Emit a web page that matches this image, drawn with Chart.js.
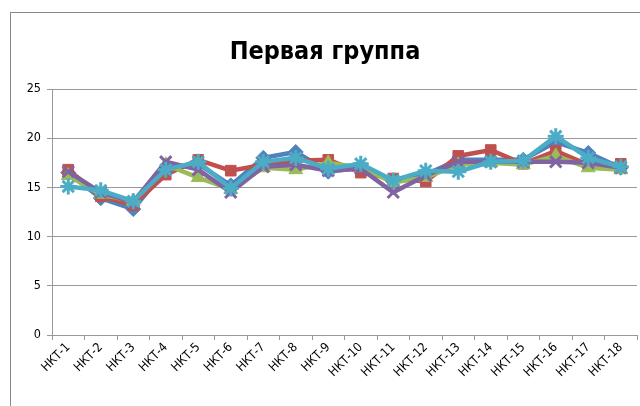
<!DOCTYPE html>
<html>
<head>
<meta charset="utf-8">
<script src="https://cdn.jsdelivr.net/npm/chart.js@4/dist/chart.umd.min.js"></script>
<style>
  html, body { margin: 0; padding: 0; background: #fff; }
  #wrap { width: 640px; height: 406px; }
</style>
</head>
<body>
<div id="wrap"><canvas id="lineChart" width="640" height="406"></canvas></div>
<script>
// Categories and series
const categories = ['НКТ-1', 'НКТ-2', 'НКТ-3', 'НКТ-4', 'НКТ-5', 'НКТ-6', 'НКТ-7', 'НКТ-8', 'НКТ-9',
    'НКТ-10', 'НКТ-11', 'НКТ-12', 'НКТ-13', 'НКТ-14', 'НКТ-15', 'НКТ-16', 'НКТ-17', 'НКТ-18'];

const series1 = [16.5, 13.9, 12.8, 16.8, 17.4, 15.2, 18.0, 18.6, 16.6, 17.0, 15.6, 16.3, 17.8, 17.8, 17.8, 19.6, 18.5, 17.0];
const series2 = [16.8, 14.1, 13.2, 16.3, 17.8, 16.7, 17.3, 17.7, 17.8, 16.5, 15.9, 15.6, 18.2, 18.8, 17.4, 18.7, 17.3, 17.4];
const series3 = [16.2, 14.3, 13.6, 17.3, 16.0, 14.8, 17.0, 16.8, 17.5, 17.0, 15.5, 16.0, 17.3, 17.5, 17.3, 18.2, 17.0, 16.8];
const series4 = [16.6, 14.5, 13.5, 17.6, 16.8, 14.5, 17.1, 17.3, 16.7, 16.9, 14.5, 16.2, 17.6, 17.6, 17.6, 17.6, 17.5, 17.0];
const series5 = [15.1, 14.7, 13.6, 16.8, 17.6, 14.9, 17.6, 18.0, 16.9, 17.4, 15.7, 16.7, 16.6, 17.6, 17.7, 20.2, 18.0, 17.1];

const yTicks = [0, 5, 10, 15, 20, 25];

const titleText = 'Первая группа';
const fontFamily = '"Liberation Sans Narrow", "DejaVu Sans Condensed", "Liberation Sans", sans-serif';

function makeSeries(data, color, style, radius, order) {
    return {
        data: data,
        borderColor: color,
        backgroundColor: color,
        borderWidth: 4.5,
        pointStyle: style,
        pointRadius: radius,
        pointBorderWidth: style === 'crossRot' || style === 'star' ? 3 : 1,
        tension: 0,
        clip: false,
        order: order
    };
}

// Frame + title drawn before the chart
const framePlugin = {
    id: 'frame',
    beforeDraw(chart) {
        const ctx = chart.ctx;
        ctx.save();
        ctx.fillStyle = '#fff';
        ctx.fillRect(0, 0, chart.width, chart.height);
        ctx.strokeStyle = '#888';
        ctx.lineWidth = 1;
        ctx.strokeRect(10.5, 12.5, 700, 500);
        ctx.fillStyle = '#000';
        ctx.font = 'bold 25px ' + fontFamily;
        ctx.textAlign = 'center';
        ctx.textBaseline = 'alphabetic';
        ctx.fillText(titleText, 325, 59);
        ctx.restore();
    }
};

const ctx = document.getElementById('lineChart').getContext('2d');
new Chart(ctx, {
    type: 'line',
    data: {
        labels: categories,
        datasets: [
            makeSeries(series1, '#4F81BD', 'rectRot', 7.5, 5),
            makeSeries(series2, '#C0504D', 'rect', 7.5, 4),
            makeSeries(series3, '#9BBB59', 'triangle', 8, 3),
            makeSeries(series4, '#8064A2', 'crossRot', 8, 2),
            makeSeries(series5, '#4BACC6', 'star', 8, 1)
        ]
    },
    options: {
        responsive: false,
        animation: false,
        layout: { autoPadding: false, padding: { top: 89, right: 3, left: 0, bottom: 0 } },
        plugins: {
            legend: { display: false },
            title: { display: false },
            tooltip: { enabled: false }
        },
        scales: {
            x: {
                offset: true,
                grid: {
                    offset: true,
                    drawOnChartArea: false,
                    color: '#999',
                    tickLength: 5
                },
                border: { color: '#999' },
                ticks: {
                    color: '#000',
                    font: { family: fontFamily, size: 12.5 },
                    minRotation: 45,
                    maxRotation: 45,
                    autoSkip: false,
                    padding: 0
                },
                afterFit(scale) {
                    scale.height = 71;
                    scale.paddingLeft = 0;
                    scale.paddingRight = 0;
                }
            },
            y: {
                min: 0,
                max: 25,
                afterBuildTicks(scale) { scale.ticks = yTicks.map(v => ({ value: v })); },
                grid: { color: '#999', tickLength: 5 },
                border: { color: '#999' },
                ticks: {
                    color: '#000',
                    font: { family: fontFamily, size: 12.5 },
                    padding: 6
                },
                afterFit(scale) {
                    scale.width = 52;
                    scale.paddingTop = 0;
                    scale.paddingBottom = 0;
                }
            }
        }
    },
    plugins: [framePlugin]
});
</script>
</body>
</html>
